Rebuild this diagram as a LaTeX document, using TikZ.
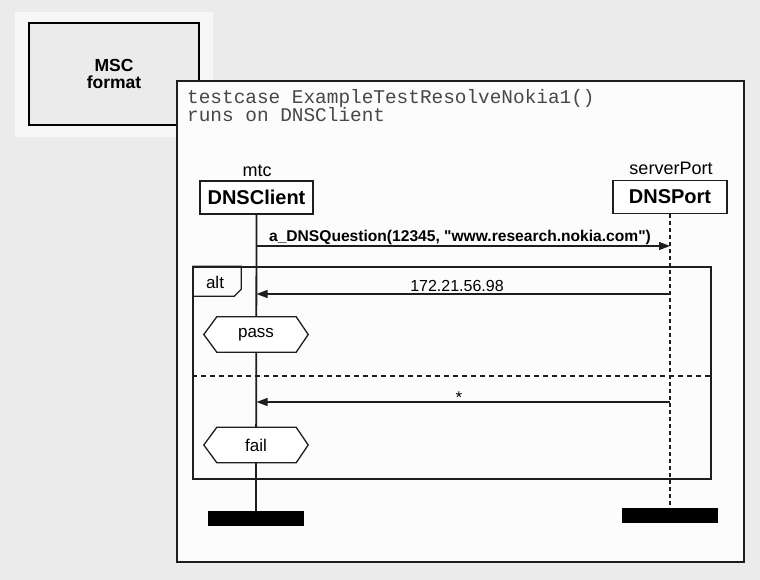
\documentclass[tikz,border=0pt]{standalone}
\usepackage{fontspec}
\setmainfont{Liberation Sans}
\newfontfamily\codefont{Liberation Mono}
\usetikzlibrary{arrows.meta}
\definecolor{pagebg}{HTML}{EBEBEB}
\definecolor{panelbg}{HTML}{F7F7F7}
\definecolor{framebg}{HTML}{FCFCFC}
\definecolor{inkline}{HTML}{1E1E1E}
\tikzset{
  frameline/.style={draw=inkline, line width=1.8pt},
  instbox/.style={draw=inkline, fill=white, line width=1.3pt, minimum width=113pt,
    minimum height=33pt, inner sep=0pt, font=\fontsize{20}{22}\selectfont\bfseries},
  instname/.style={anchor=base, font=\fontsize{18}{20}\selectfont},
  endbar/.style={fill=black, draw=none, minimum width=96pt, minimum height=15pt, inner sep=0pt},
  msg/.style={draw=inkline, line width=1.3pt, -{Triangle[length=11pt,width=8pt]}},
  msglabel/.style={anchor=base, inner sep=0pt, font=\fontsize{16}{18}\selectfont},
  hexlabel/.style={minimum width=104pt, minimum height=35pt, inner sep=0pt,
    font=\fontsize{17}{19}\selectfont},
  hexline/.style={draw=inkline, fill=white, line width=1.3pt},
  codeline/.style={anchor=base west, inner sep=0pt, text=black!72, text height=11pt,
    text depth=3pt, font=\codefont\fontsize{19.4}{18}\selectfont},
}
\begin{document}
\begin{tikzpicture}[x=1pt, y=-1pt]
% page and panels
\fill[pagebg] (0,0) rectangle (760,580);
\useasboundingbox (0,0) rectangle (760,580);
\fill[panelbg] (15,12) rectangle (213,137);
\node[draw=black, fill=pagebg, line width=2.8pt, minimum width=170pt, minimum height=102pt,
  align=center, font=\fontsize{17.5}{17}\selectfont\bfseries] (fmt) at (114,74) {MSC\\format};
\node[frameline, fill=framebg, minimum width=567pt, minimum height=481pt, inner sep=0pt]
  (tc) at (460.5,321.5) {};

% heading of the test case
\node[codeline] (hdr1) at (187,104) {testcase ExampleTestResolveNokia1()};
\node[codeline] (hdr2) at (187,122) {runs on DNSClient};

% instances
\node[instname] (mtc) at (257,177) {mtc};
\node[instbox] (client) at (256.5,197.5) {DNSClient};
\node[instname] (sp) at (671,175) {serverPort};
\node[instbox, minimum width=114pt] (port) at (670,197) {DNSPort};
\node[endbar] (clientend) at (256,518.5) {};
\node[endbar] (portend) at (670,515) {};

% alt inline expression
\node[draw=inkline, line width=1.5pt, minimum width=518pt, minimum height=212pt, inner sep=0pt]
  (alt) at (452,373) {};
\draw[draw=inkline, line width=1.3pt] (alt.north west) ++(0,30) coordinate (tabbl)
  -- ++(42,0) coordinate (tabc1) -- ++(7,-7) coordinate (tabc2) |- (alt.north west);
\node[msglabel, font=\fontsize{17}{19}\selectfont] (alttxt) at (215,288) {alt};
\draw[draw=inkline, line width=1.2pt, dash pattern=on 5pt off 4pt]
  (alt.west |- 0,376) coordinate (sepl) -- (alt.east |- 0,376) coordinate (sepr);

% lifelines
\draw[draw=inkline, line width=1.8pt] (client.south) -- (clientend.north);
\draw[draw=inkline, line width=1.5pt, dash pattern=on 4pt off 3pt] (port.south) -- (portend.north);

% messages
\coordinate (q1) at (client.south |- 0,246);
\coordinate (q2) at (port.south |- 0,246);
\draw[msg] (q1) -- (q2);
\node[msglabel, font=\fontsize{15.6}{18}\selectfont\bfseries] (qlab) at (460,241)
  {a\_DNSQuestion(12345, \textquotedbl www.research.nokia.com\textquotedbl)};

\coordinate (r1) at (port.south |- 0,294);
\coordinate (r2) at (client.south |- 0,294);
\draw[msg] (r1) -- (r2);
\node[msglabel] (rlab) at (457,291.5) {172.21.56.98};

\coordinate (s1) at (port.south |- 0,402);
\coordinate (s2) at (client.south |- 0,402);
\draw[msg] (s1) -- (s2);
\node[msglabel, font=\fontsize{17}{19}\selectfont] (slab) at (459,403) {*};

% verdicts
\node[hexlabel] (pass) at (256,334.5) {};
\draw[hexline] ([xshift=13pt]pass.north west) -- ([xshift=-12pt]pass.north east) -- (pass.east)
  -- ([xshift=-12pt]pass.south east) -- ([xshift=13pt]pass.south west) -- (pass.west) -- cycle;
\node[hexlabel] (passtxt) at (pass.center) {pass};

\node[hexlabel] (fail) at (256,445) {};
\draw[hexline] ([xshift=13pt]fail.north west) -- ([xshift=-12pt]fail.north east) -- (fail.east)
  -- ([xshift=-12pt]fail.south east) -- ([xshift=13pt]fail.south west) -- (fail.west) -- cycle;
\node[hexlabel] (failtxt) at (fail.center) {fail};
\end{tikzpicture}
\end{document}
